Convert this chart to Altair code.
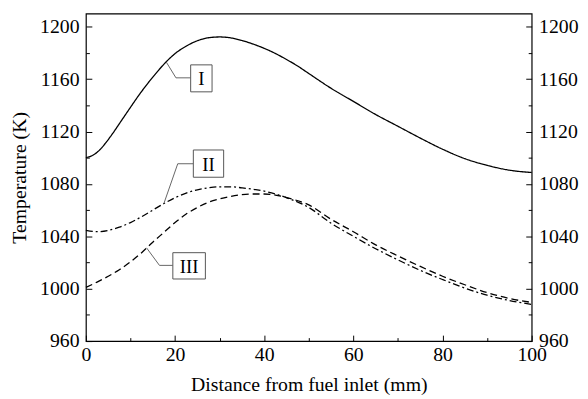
import altair as alt
import pandas as pd

# ---- curve data ----
dist_I = [0, 1.5, 3, 4.5, 6, 8, 10, 12, 14, 16, 18, 20, 22.5, 25, 27.5, 30, 32.5, 35,
          37.5, 40, 42.5, 45, 47.5, 50, 55, 60, 65, 70, 75, 80, 85, 90, 95, 100]
temp_I = [1100, 1101.8, 1105.6, 1111.6, 1118.5, 1128.5, 1138.5, 1148.3, 1157.3, 1165.6, 1173.2,
          1179.5, 1185.2, 1189.3, 1191.6, 1192.2, 1191.5, 1189.5, 1186.8, 1183.5, 1179.6,
          1175, 1170, 1164.3, 1153, 1143, 1133, 1124, 1115, 1106.5, 1099.3, 1094.2,
          1090.5, 1088.7]

dist_II = [0, 2.5, 5, 7.5, 10, 12.5, 15, 17.5, 20, 22.5, 25, 27.5, 30, 32.5, 35, 40, 45,
           50, 55, 60, 65, 70, 75, 80, 85, 90, 95, 100]
temp_II = [1044.5, 1043.5, 1044.5, 1047, 1050.5, 1055, 1060, 1065, 1069.5, 1073, 1075.5,
           1077, 1077.8, 1077.8, 1077, 1074.5, 1069.5, 1062, 1050, 1040, 1030.5, 1022,
           1014, 1007, 1000.5, 995, 991, 988]

dist_III = [0, 2.5, 5, 7.5, 10, 12.5, 15, 17.5, 20, 22.5, 25, 27.5, 30, 32.5, 35, 37.5,
            40, 42.5, 45, 50, 55, 60, 65, 70, 75, 80, 85, 90, 95, 100]
temp_III = [1001, 1005, 1009.5, 1014.5, 1020.5, 1027.5, 1035.5, 1043, 1050.5, 1057, 1062,
            1066, 1068.5, 1070.5, 1071.8, 1072.3, 1072.3, 1071.5, 1069.5, 1064, 1053,
            1043.5, 1033.5, 1025, 1017, 1009.5, 1003, 997, 992.5, 989.5]

series_names = ["I", "II", "III"]

# ---- axis tick values ----
x_major = [0, 20, 40, 60, 80, 100]
x_minor = [10, 30, 50, 70, 90]
y_major = [960, 1000, 1040, 1080, 1120, 1160, 1200]
y_minor = [980, 1020, 1060, 1100, 1140, 1180]

# ---- label callouts (data units) ----
label_curve_x = [18.0, 17.5, 13.6]
label_curve_y = [1173.2, 1065.1, 1031.2]
label_elbow_x = [20.2, 20.6, 16.5]
label_elbow_y = [1161.0, 1095.4, 1017.8]
box_x1 = [23.5, 24.1, 19.5]
box_x2 = [28.3, 30.9, 26.8]
box_y1 = [1150.3, 1085.1, 1007.4]
box_y2 = [1170.9, 1105.9, 1027.5]

# ---- build tables ----
rows = []
for name, xs, ts in zip(series_names, [dist_I, dist_II, dist_III], [temp_I, temp_II, temp_III]):
    for i, (d, t) in enumerate(zip(xs, ts)):
        rows.append({"dist": d, "temp": t, "series": name, "order": i})
curves = pd.DataFrame(rows)

lrows = []
for k, name in enumerate(series_names):
    pts = [(label_curve_x[k], label_curve_y[k]),
           (label_elbow_x[k], label_elbow_y[k]),
           (box_x1[k], label_elbow_y[k])]
    for i, (d, t) in enumerate(pts):
        lrows.append({"dist": d, "temp": t, "label": name, "order": i})
leaders = pd.DataFrame(lrows)

boxes = pd.DataFrame({
    "label": series_names,
    "x1": box_x1, "x2": box_x2, "y1": box_y1, "y2": box_y2,
})
boxes["xc"] = (boxes["x1"] + boxes["x2"]) / 2
boxes["yc"] = (boxes["y1"] + boxes["y2"]) / 2

XS = alt.Scale(domain=[0, 100], nice=False, zero=False)
YS = alt.Scale(domain=[960, 1210], nice=False, zero=False)

FONT = "Liberation Serif"

ax_bottom = alt.Axis(orient="bottom", values=x_major, offset=-6, tickSize=6,
                     labelPadding=4, title="Distance from fuel inlet (mm)",
                     titlePadding=10, format="d", labelFlush=False, labelOverlap=False)
ay_left = alt.Axis(orient="left", values=y_major, offset=-6, tickSize=6,
                   labelPadding=7, title="Temperature (K)", titlePadding=10,
                   format="d", labelOverlap=False)
ax_bottom_minor = alt.Axis(orient="bottom", values=x_minor, offset=-3.5, tickSize=3.5,
                           labels=False, title="")
ay_left_minor = alt.Axis(orient="left", values=y_minor, offset=-3.5, tickSize=3.5,
                         labels=False, title="")
ay_right = alt.Axis(orient="right", values=y_major, offset=-6, tickSize=6,
                    labelPadding=7, title="", format="d", labelOverlap=False)
ay_right_minor = alt.Axis(orient="right", values=y_minor, offset=-3.5, tickSize=3.5,
                          labels=False, title="")

lines = alt.Chart(curves).mark_line(color="black", strokeWidth=1.3, interpolate="monotone").encode(
    x=alt.X("dist:Q", scale=XS, axis=ax_bottom),
    y=alt.Y("temp:Q", scale=YS, axis=ay_left),
    strokeDash=alt.StrokeDash("series:N",
                              scale=alt.Scale(domain=series_names,
                                              range=[[1, 0], [7, 3, 2, 3], [7, 4]]),
                              legend=None),
    order="order:Q",
)

minor_lb = alt.Chart(curves).mark_point(opacity=0).encode(
    x=alt.X("dist:Q", scale=XS, axis=ax_bottom_minor),
    y=alt.Y("temp:Q", scale=YS, axis=ay_left_minor),
)

right_major = alt.Chart(curves).mark_point(opacity=0).encode(
    x=alt.X("dist:Q", scale=XS, axis=None),
    y=alt.Y("temp:Q", scale=YS, axis=ay_right),
)

right_minor = alt.Chart(curves).mark_point(opacity=0).encode(
    x=alt.X("dist:Q", scale=XS, axis=None),
    y=alt.Y("temp:Q", scale=YS, axis=ay_right_minor),
)

leader = alt.Chart(leaders).mark_line(color="#666666", strokeWidth=1).encode(
    x=alt.X("dist:Q", scale=XS, axis=None),
    y=alt.Y("temp:Q", scale=YS, axis=None),
    detail="label:N",
    order="order:Q",
)

box = alt.Chart(boxes).mark_rect(fill="white", stroke="#555555", strokeWidth=1).encode(
    x=alt.X("x1:Q", scale=XS, axis=None),
    x2="x2:Q",
    y=alt.Y("y1:Q", scale=YS, axis=None),
    y2="y2:Q",
)

txt = alt.Chart(boxes).mark_text(font=FONT, fontSize=19, color="black",
                                 baseline="middle", align="center", dy=1).encode(
    x=alt.X("xc:Q", scale=XS, axis=None),
    y=alt.Y("yc:Q", scale=YS, axis=None),
    text="label:N",
)

chart = alt.layer(lines, minor_lb, right_major, right_minor, leader, box, txt).resolve_scale(
    x="independent", y="independent"
).resolve_axis(
    x="independent", y="independent"
).properties(
    width=452, height=332,
    autosize=alt.AutoSizeParams(type="none"),
    padding={"left": 79, "top": 3, "right": 49, "bottom": 56},
).configure_view(
    stroke="black", strokeWidth=1.2
).configure_axis(
    labelFont=FONT, labelFontSize=20, labelColor="black",
    titleFont=FONT, titleFontSize=20, titleFontWeight="normal", titleColor="black",
    tickColor="black", tickWidth=1, grid=False, domain=False,
)

chart.save("out.html", embed_options={"renderer": "svg", "actions": False})
